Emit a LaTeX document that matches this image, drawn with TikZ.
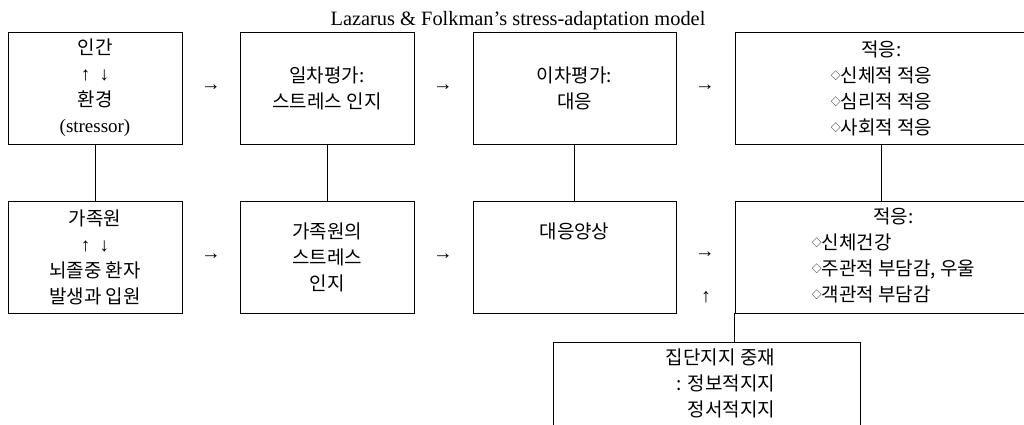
\documentclass[tikz,border=0pt]{standalone}
\usepackage{fontspec}
\setmainfont{Liberation Serif}
\newfontfamily\kr{Noto Sans CJK KR}
\newcommand{\kfont}{\fontsize{13.5}{18.5}\selectfont\kr}
\newcommand{\dia}{\raisebox{0.25ex}{\fontsize{7}{7}\selectfont ◇}}

\begin{document}
\begin{tikzpicture}[x=0.025cm,y=-0.025cm,font=\kfont,
    box/.style={draw,line width=0.6pt,align=center,inner sep=0pt,minimum height=2.8cm},
    link/.style={line width=0.6pt},
    arrowtxt/.style={font=\fontsize{14}{16}\selectfont\rmfamily,inner sep=0pt}]
\useasboundingbox (0,0) rectangle (1024,424);

% Title
\node[font=\fontsize{14.5}{16}\selectfont\rmfamily,anchor=base] (title) at (518,25) {Lazarus \& Folkman's stress-adaptation model};

% Top row (stress-adaptation model)
\node[box,minimum width=4.35cm] (t1) at (95,88) {인간\\{\rmfamily ↑\ \ ↓}\\환경\\{\rmfamily (stressor)}};
\node[box,minimum width=4.35cm] (t2) at (327,88) {일차평가:\\스트레스 인지};
\node[box,minimum width=5.075cm] (t3) at (574.5,88) {이차평가:\\대응};
\node[box,minimum width=7.325cm] (t4) at (881.5,88) {적응:\\\dia 신체적 적응\\\dia 심리적 적응\\\dia 사회적 적응};

% Bottom row (family members)
\node[box,minimum width=4.35cm] (b1) at (95,257) {가족원\\{\rmfamily ↑\ \ ↓}\\뇌졸중 환자\\발생과 입원};
\node[box,minimum width=4.35cm] (b2) at (327,257) {가족원의\\스트레스\\인지};
\node[box,minimum width=5.075cm] (b3) at (574.5,257) {대응양상\\~\\~};
\node[box,minimum width=7.325cm] (b4) at (881.5,257) {\hspace*{0.6cm}\begin{tabular}{@{}l@{}}\multicolumn{1}{@{}c@{}}{적응:}\\\dia 신체건강\\\dia 주관적 부담감, 우울\\\dia 객관적 부담감\end{tabular}};

% Intervention box
\node[box,minimum width=7.675cm,minimum height=2.15cm] (grp) at (706.5,385) {\hspace*{0.7cm}\begin{tabular}{@{}r@{}}집단지지 중재\\: 정보적지지\\정서적지지\end{tabular}};

% Vertical links
\foreach \i in {1,...,4}
    \draw[link] (t\i.south) -- (b\i.north);
\draw[link] (b4.south west) -- (b4.south west |- grp.north);

% Arrow glyphs between boxes
\foreach \x/\y [count=\i] in {211/88,443/88,705/88,211/257,443/257,705/255}
    \node[arrowtxt] (ar\i) at (\x,\y) {→};
\node[arrowtxt] (up) at (706,297) {↑};

\end{tikzpicture}
\end{document}
